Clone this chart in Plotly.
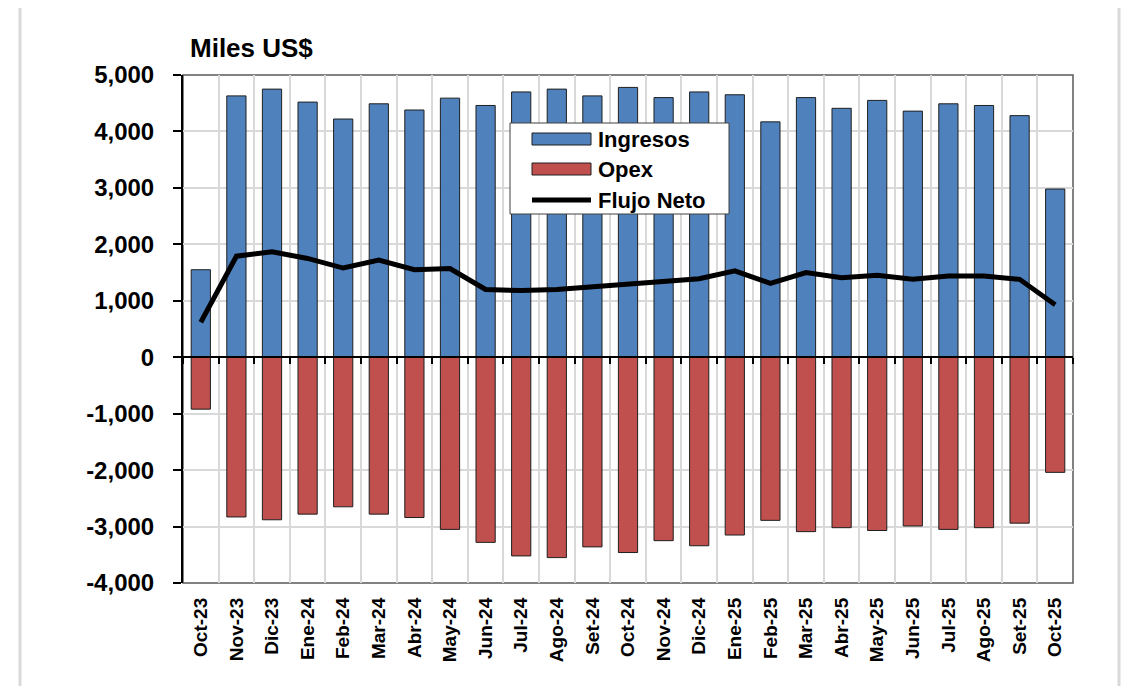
import plotly.graph_objects as go

months = ["Oct-23", "Nov-23", "Dic-23", "Ene-24", "Feb-24", "Mar-24", "Abr-24", "May-24",
          "Jun-24", "Jul-24", "Ago-24", "Set-24", "Oct-24", "Nov-24", "Dic-24", "Ene-25",
          "Feb-25", "Mar-25", "Abr-25", "May-25", "Jun-25", "Jul-25", "Ago-25", "Set-25", "Oct-25"]
ingresos = [1550, 4630, 4750, 4520, 4220, 4490, 4380, 4590, 4460, 4700, 4750, 4630, 4780,
            4600, 4700, 4650, 4170, 4600, 4410, 4550, 4360, 4490, 4460, 4280, 2980]
opex = [-920, -2830, -2880, -2780, -2650, -2780, -2840, -3050, -3280, -3520, -3550, -3360, -3460,
        -3250, -3340, -3150, -2890, -3090, -3020, -3070, -2990, -3050, -3020, -2940, -2040]
flujo = [620, 1790, 1870, 1750, 1580, 1720, 1550, 1570, 1200, 1180, 1200, 1250, 1300,
         1340, 1390, 1530, 1310, 1500, 1410, 1450, 1380, 1440, 1440, 1380, 930]
ytick_vals = [-4000, -3000, -2000, -1000, 0, 1000, 2000, 3000, 4000, 5000]
ytick_text = [f"{v:,}" for v in ytick_vals]

BLUE = "#4f81bd"
RED = "#c0504d"
EDGE = "#1f1f1f"
FONT = "Liberation Sans"

fig = go.Figure()
fig.add_trace(go.Bar(x=months, y=ingresos, name="Ingresos", width=0.54,
                     marker=dict(color=BLUE, line=dict(color=EDGE, width=1))))
fig.add_trace(go.Bar(x=months, y=opex, name="Opex", width=0.54,
                     marker=dict(color=RED, line=dict(color=EDGE, width=1))))
fig.add_trace(go.Scatter(x=months, y=flujo, name="Flujo Neto", mode="lines",
                         line=dict(color="black", width=5)))
# helper trace for the zero-line tick axis
fig.add_trace(go.Scatter(x=months, y=[0] * len(months), xaxis="x2", mode="markers",
                         marker=dict(opacity=0), hoverinfo="skip", showlegend=False))

fig.update_layout(
    width=1130, height=686,
    margin=dict(l=175, r=65, t=67, b=111),
    plot_bgcolor="white", paper_bgcolor="white",
    barmode="overlay", showlegend=False,
    font=dict(family=FONT, color="black"),
    xaxis=dict(type="category", tickson="boundaries", showgrid=True,
               gridcolor="#d9d9d9", gridwidth=2, ticks="", tickangle=-90,
               tickfont=dict(size=19, weight=700), ticklabelstandoff=10,
               showline=False, zeroline=False, range=[-0.5, 24.5]),
    xaxis2=dict(type="category", overlaying="x", anchor="free", position=4000 / 9000,
                side="bottom", tickson="boundaries", ticks="outside", ticklen=6,
                tickwidth=2, tickcolor="black", showticklabels=False, showgrid=False,
                showline=True, linecolor="black", linewidth=2, range=[-0.5, 24.5]),
    yaxis=dict(range=[-4000, 5000], tickvals=ytick_vals, ticktext=ytick_text,
               showgrid=True, gridcolor="#d9d9d9", gridwidth=2,
               zeroline=False, showline=True, linecolor="black", linewidth=2,
               ticks="outside", ticklen=8, tickwidth=2, tickcolor="black",
               tickfont=dict(size=24, weight=700), ticklabelstandoff=14),
)


def px_x(p):
    return (p - 183) / 890


def px_y(p):
    return (583 - p) / 508


shapes = [
    # plot area frame
    dict(type="rect", xref="paper", yref="paper", x0=0, x1=1, y0=0, y1=1,
         line=dict(color="#595959", width=1.5), layer="below"),
    # outer chart border
    dict(type="rect", xref="paper", yref="paper", x0=px_x(20), x1=px_x(1119),
         y0=px_y(720), y1=px_y(5), line=dict(color="#d9d9d9", width=3)),
    # custom legend
    dict(type="rect", xref="paper", yref="paper", x0=px_x(510), x1=px_x(729),
         y0=px_y(214), y1=px_y(123), fillcolor="white", line=dict(color="#404040", width=1)),
    dict(type="rect", xref="paper", yref="paper", x0=px_x(532), x1=px_x(591),
         y0=px_y(145), y1=px_y(133), fillcolor=BLUE, line=dict(color=EDGE, width=1)),
    dict(type="rect", xref="paper", yref="paper", x0=px_x(532), x1=px_x(591),
         y0=px_y(175), y1=px_y(163), fillcolor=RED, line=dict(color=EDGE, width=1)),
    dict(type="line", xref="paper", yref="paper", x0=px_x(532), x1=px_x(591),
         y0=px_y(200), y1=px_y(200), line=dict(color="black", width=5)),
]
fig.update_layout(shapes=shapes)

annotations = [
    dict(text="Miles US$", xref="paper", yref="paper", x=px_x(188), y=px_y(48),
         xanchor="left", yanchor="middle", showarrow=False,
         font=dict(size=26, weight=700, family=FONT)),
]
for label, py in [("Ingresos", 139), ("Opex", 169), ("Flujo Neto", 200)]:
    annotations.append(dict(text=label, xref="paper", yref="paper", x=px_x(596), y=px_y(py),
                            xanchor="left", yanchor="middle", showarrow=False,
                            font=dict(size=22, weight=700, family=FONT)))
fig.update_layout(annotations=annotations)

fig.write_html("out.html")
